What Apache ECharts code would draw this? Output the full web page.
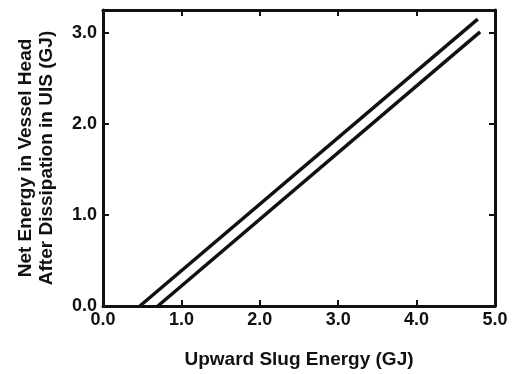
<!DOCTYPE html>
<html>
<head>
<meta charset="utf-8">
<script src="https://cdn.jsdelivr.net/npm/echarts@6/dist/echarts.min.js"></script>
<style>
  html, body { margin: 0; padding: 0; background: #fff; }
  #chart { width: 518px; height: 374px; }
</style>
</head>
<body>
<div id="chart"></div>
<script>
// two parallel lines
const upperX = [0.47, 4.78];
const upperY = [0.0, 3.15];
const lowerX = [0.70, 4.81];
const lowerY = [0.0, 3.01];

const xTitle = "Upward Slug Energy (GJ)";
const yTitle = "Net Energy in Vessel Head\nAfter Dissipation in UIS (GJ)";

const ink = "#111";
const font = "Liberation Sans, Arial, sans-serif";

const chart = echarts.init(document.getElementById("chart"));

const frameAxis = {
  axisLine: { show: true, onZero: false, lineStyle: { color: ink, width: 3 } },
  axisTick: { show: true, inside: true, length: 6, lineStyle: { color: ink, width: 2 } },
  splitLine: { show: false },
};

const option = {
  backgroundColor: "#fff",
  animation: false,
  grid: { left: 103, right: 23, top: 10, bottom: 67 },
  xAxis: [
    {
      type: "value", min: 0, max: 5, interval: 1, position: "bottom",
      ...frameAxis,
      axisLabel: {
        color: ink, fontFamily: font, fontWeight: "bold", fontSize: 18, margin: 5,
        formatter: (v) => v.toFixed(1),
      },
      name: xTitle, nameLocation: "middle", nameGap: 44,
      nameTextStyle: { color: ink, fontFamily: font, fontWeight: "bold", fontSize: 19 },
    },
    {
      type: "value", min: 0, max: 5, interval: 1, position: "top",
      ...frameAxis, axisLabel: { show: false },
    },
  ],
  yAxis: [
    {
      type: "value", min: 0, max: 3.25, interval: 1, position: "left",
      ...frameAxis,
      axisLabel: {
        color: ink, fontFamily: font, fontWeight: "bold", fontSize: 18, margin: 6,
        formatter: (v) => (Math.abs(v - Math.round(v)) < 1e-6 ? v.toFixed(1) : ""),
      },
      name: yTitle, nameLocation: "middle", nameGap: 46, nameRotate: 90,
      nameTextStyle: { color: ink, fontFamily: font, fontWeight: "bold", fontSize: 19, lineHeight: 21 },
    },
    {
      type: "value", min: 0, max: 3.25, interval: 1, position: "right",
      ...frameAxis, axisLabel: { show: false },
    },
  ],
  series: [
    {
      type: "line", data: upperX.map((x, i) => [x, upperY[i]]),
      showSymbol: false, lineStyle: { color: ink, width: 3.5 },
    },
    {
      type: "line", data: lowerX.map((x, i) => [x, lowerY[i]]),
      showSymbol: false, lineStyle: { color: ink, width: 3.5 },
    },
  ],
};

chart.setOption(option);
</script>
</body>
</html>
